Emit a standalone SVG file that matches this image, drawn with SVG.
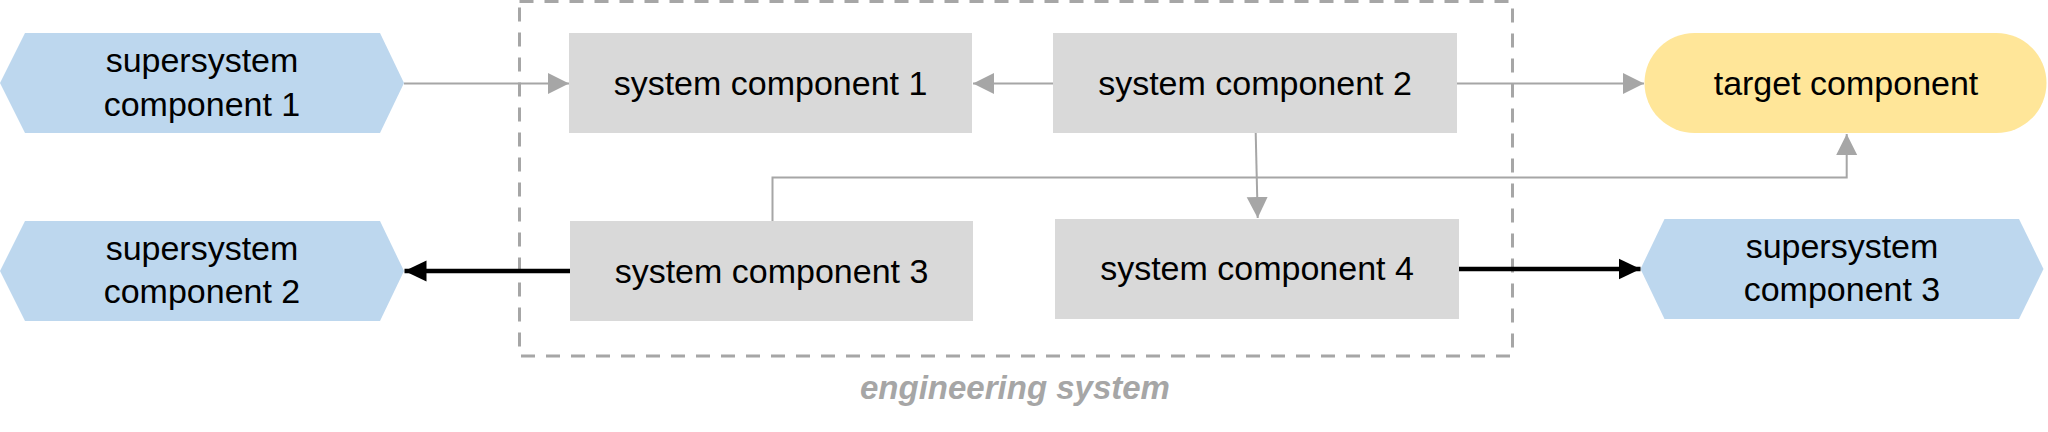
<svg xmlns="http://www.w3.org/2000/svg" width="2048" height="432" viewBox="0 0 2048 432">
  <defs>
    <style>
      .lbl { font-family: "Liberation Sans", Arial, sans-serif; font-size: 34px; fill: #000; text-anchor: middle; }
      .hex { fill: #bdd7ee; }
      .box { fill: #d9d9d9; }
      .tgt { fill: #ffe699; }
      .gray { stroke: #a6a6a6; stroke-width: 2; fill: none; }
      .black { stroke: #000; stroke-width: 4.5; fill: none; }
    </style>
    <marker id="ag" markerUnits="userSpaceOnUse" markerWidth="22" markerHeight="22" refX="21" refY="11" orient="auto">
      <path d="M0,0.5 L21,11 L0,21.5 Z" fill="#a6a6a6"/>
    </marker>
    <marker id="ab" markerUnits="userSpaceOnUse" markerWidth="23" markerHeight="24" refX="22" refY="12" orient="auto">
      <path d="M0,1.5 L22,12 L0,22.5 Z" fill="#000"/>
    </marker>
  </defs>

  <g id="engineering-system">
    <rect x="519.5" y="1.5" width="993" height="354.5" fill="none" stroke="#a6a6a6" stroke-width="3" stroke-dasharray="14 11"/>
    <text x="1015" y="399" style="font-family: 'Liberation Sans', Arial, sans-serif; font-size: 33px; font-style: italic; font-weight: bold; fill: #a6a6a6; text-anchor: middle;">engineering system</text>
  </g>

  <g id="supersystem-component-1">
    <polygon class="hex" points="0,83 25,33 380,33 404,83 380,133 25,133"/>
    <text class="lbl" x="202" y="72">supersystem</text>
    <text class="lbl" x="202" y="115.5">component 1</text>
  </g>

  <g id="supersystem-component-2">
    <polygon class="hex" points="0,271 25,221 380,221 404,271 380,321 25,321"/>
    <text class="lbl" x="202" y="260">supersystem</text>
    <text class="lbl" x="202" y="303">component 2</text>
  </g>

  <g id="supersystem-component-3">
    <polygon class="hex" points="1640.5,269 1664.5,219 2019,219 2043.5,269 2019,319 1664.5,319"/>
    <text class="lbl" x="1842" y="258">supersystem</text>
    <text class="lbl" x="1842" y="301">component 3</text>
  </g>

  <g id="system-component-1">
    <rect class="box" x="569" y="33" width="403" height="100"/>
    <text class="lbl" x="770.5" y="95">system component 1</text>
  </g>

  <g id="system-component-2">
    <rect class="box" x="1053" y="33" width="404" height="100"/>
    <text class="lbl" x="1255" y="95">system component 2</text>
  </g>

  <g id="system-component-3">
    <rect class="box" x="570" y="221" width="403" height="100"/>
    <text class="lbl" x="771.5" y="283">system component 3</text>
  </g>

  <g id="system-component-4">
    <rect class="box" x="1055" y="219" width="404" height="100"/>
    <text class="lbl" x="1257" y="280">system component 4</text>
  </g>

  <g id="target-component">
    <rect class="tgt" x="1644.5" y="33" width="402" height="100" rx="50" ry="50"/>
    <text class="lbl" x="1846" y="95">target component</text>
  </g>

  <g id="connectors">
    <line class="gray" x1="404" y1="83.5" x2="569" y2="83.5" marker-end="url(#ag)"/>
    <line class="gray" x1="1053" y1="83.5" x2="973" y2="83.5" marker-end="url(#ag)"/>
    <line class="gray" x1="1457" y1="83.5" x2="1644" y2="83.5" marker-end="url(#ag)"/>
    <line class="gray" x1="1255.7" y1="133" x2="1257.7" y2="218" marker-end="url(#ag)"/>
    <polyline class="gray" points="772.5,221 772.5,177.5 1846.7,177.5 1846.7,134" marker-end="url(#ag)"/>
    <line class="black" x1="570" y1="271" x2="404.5" y2="271" marker-end="url(#ab)"/>
    <line class="black" x1="1459" y1="269" x2="1640.5" y2="269" marker-end="url(#ab)"/>
  </g>
</svg>
